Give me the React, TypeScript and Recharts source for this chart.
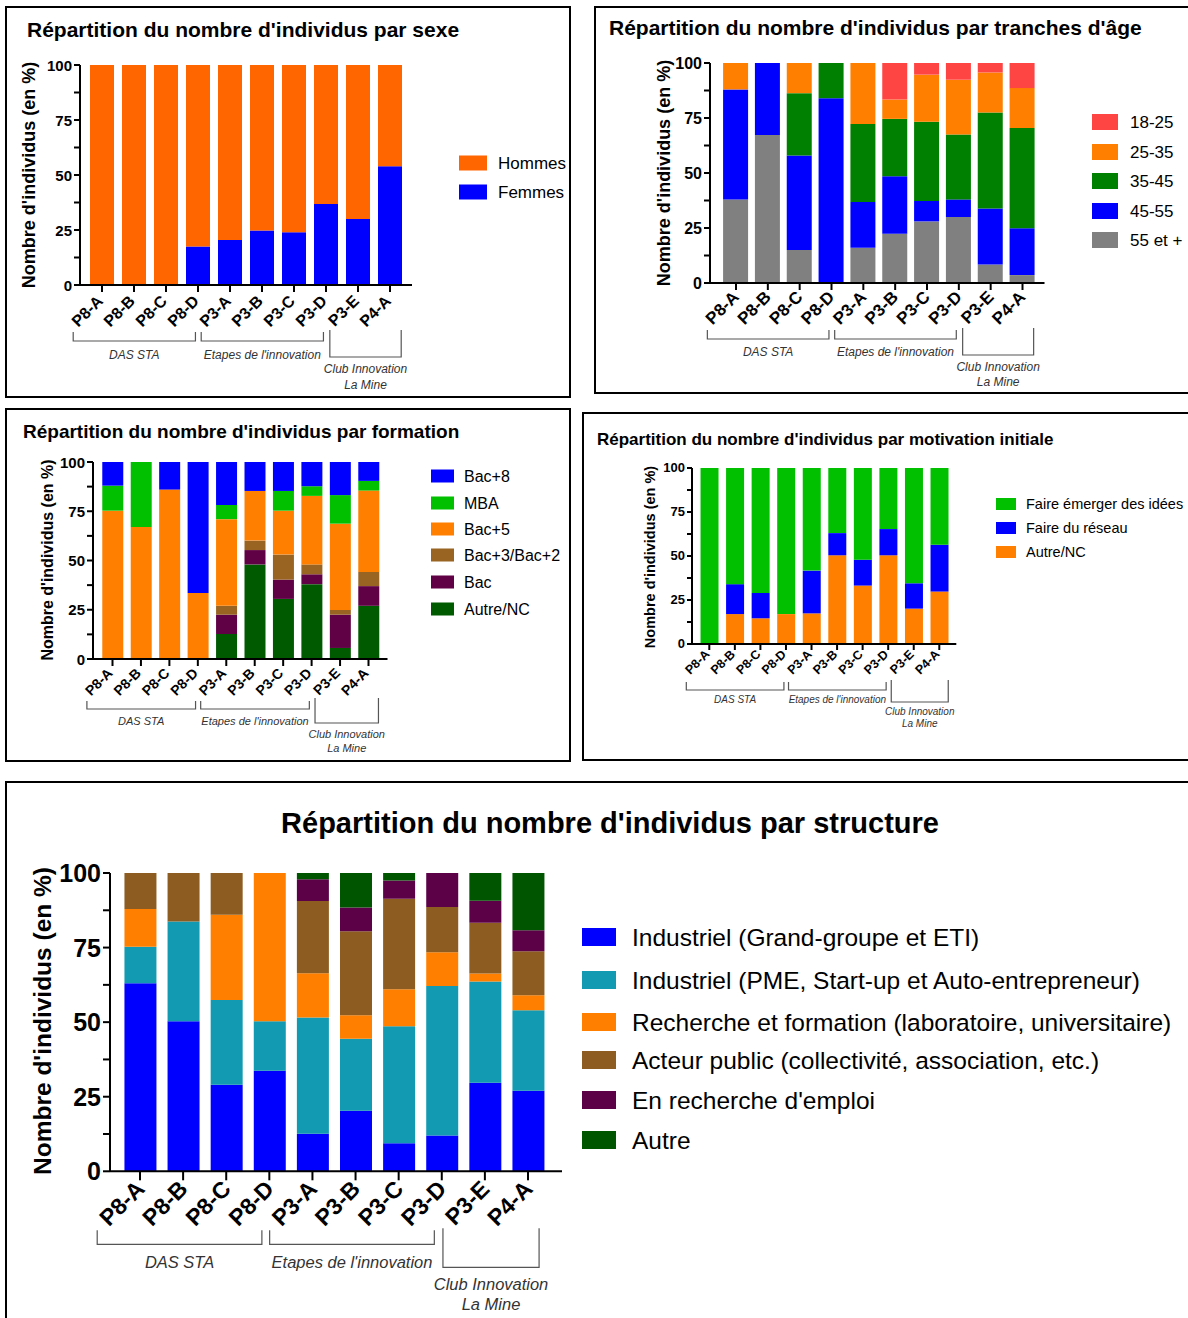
import React from "react";
import { BarChart, Bar, XAxis, YAxis } from "recharts";

const FONT = "'Liberation Sans', Arial, Helvetica, sans-serif";

const CATEGORIES = ["P8-A", "P8-B", "P8-C", "P8-D", "P3-A", "P3-B", "P3-C", "P3-D", "P3-E", "P4-A"];
const GROUPS = [
  { lines: ["DAS STA"], first: 0, last: 3, club: false },
  { lines: ["Etapes de l'innovation"], first: 4, last: 7, club: false },
  { lines: ["Club Innovation", "La Mine"], first: 8, last: 9, club: true },
];
const Y_TICKS = [0, 12.5, 25, 37.5, 50, 62.5, 75, 87.5, 100];
const Y_LABEL = "Nombre d'individus (en %)";

// sexe (stack from bottom)
const SEXE_FEMMES = [0, 0, 0, 17.5, 20.5, 24.8, 24, 36.8, 30, 54];
const SEXE_HOMMES = [100, 100, 100, 82.5, 79.5, 75.2, 76, 63.2, 70, 46];

// tranches d'age
const AGE_55_PLUS = [38, 67.3, 15, 0, 16, 22.4, 28, 30, 8.4, 3.6];
const AGE_45_55 = [50, 32.7, 43, 84, 20.8, 26.1, 9.3, 8, 25.5, 21.3];
const AGE_35_45 = [0, 0, 28.3, 16, 35.5, 26.1, 36, 29.5, 43.6, 45.5];
const AGE_25_35 = [12, 0, 13.7, 0, 27.7, 8.8, 21.4, 24.9, 18.2, 18.2];
const AGE_18_25 = [0, 0, 0, 0, 0, 16.6, 5.3, 7.6, 4.3, 11.4];

// formation
const FORM_AUTRE = [0, 0, 0, 0, 12.7, 48, 30.5, 38, 5.6, 27];
const FORM_BAC = [0, 0, 0, 0, 9.8, 7.3, 9.8, 5, 16.9, 10];
const FORM_BAC3 = [0, 0, 0, 0, 4.5, 4.8, 12.7, 5, 2.4, 7.2];
const FORM_BAC5 = [75.3, 67, 86, 33.5, 44, 25.2, 22.3, 34.8, 43.8, 41.3];
const FORM_MBA = [12.7, 33, 0, 0, 7.2, 0, 10, 4.9, 14.5, 4.9];
const FORM_BAC8 = [12, 0, 14, 66.5, 21.8, 14.7, 14.7, 12.3, 16.8, 9.6];

// motivation initiale
const MOTIV_AUTRE = [0, 17, 14.6, 17, 17.4, 50.4, 33.2, 50.4, 20.1, 29.8];
const MOTIV_RESEAU = [0, 17, 14.4, 0, 24.3, 12.6, 14.7, 14.9, 14.4, 26.6];
const MOTIV_IDEES = [100, 66, 71, 83, 58.3, 37, 52.1, 34.7, 65.5, 43.6];

// structure
const STRUCT_GG = [63, 50.3, 29, 33.7, 12.6, 20.3, 9.4, 12, 29.7, 27];
const STRUCT_PME = [12.3, 33.4, 28.4, 16.6, 39, 24.1, 39.2, 50.1, 33.9, 27];
const STRUCT_RECH = [12.6, 0, 28.6, 49.7, 14.8, 7.9, 12.4, 11.3, 2.7, 5];
const STRUCT_PUBLIC = [12.1, 16.3, 14, 0, 24.2, 28.2, 30.4, 15.2, 17, 14.8];
const STRUCT_EMPLOI = [0, 0, 0, 0, 7.3, 7.9, 6.1, 11.4, 7.4, 7];
const STRUCT_AUTRE = [0, 0, 0, 0, 2.1, 11.6, 2.5, 0, 9.3, 19.2];

type Series = { name: string; color: string; values: number[] };

const SEXE: Series[] = [
  { name: "Femmes", color: "#0000FF", values: SEXE_FEMMES },
  { name: "Hommes", color: "#FF6600", values: SEXE_HOMMES },
];
const AGE: Series[] = [
  { name: "55 et +", color: "#808080", values: AGE_55_PLUS },
  { name: "45-55", color: "#0000FF", values: AGE_45_55 },
  { name: "35-45", color: "#008000", values: AGE_35_45 },
  { name: "25-35", color: "#FF8000", values: AGE_25_35 },
  { name: "18-25", color: "#FF4444", values: AGE_18_25 },
];
const FORMATION: Series[] = [
  { name: "Autre/NC", color: "#005A00", values: FORM_AUTRE },
  { name: "Bac", color: "#600045", values: FORM_BAC },
  { name: "Bac+3/Bac+2", color: "#996422", values: FORM_BAC3 },
  { name: "Bac+5", color: "#FF8000", values: FORM_BAC5 },
  { name: "MBA", color: "#00C000", values: FORM_MBA },
  { name: "Bac+8", color: "#0000FF", values: FORM_BAC8 },
];
const MOTIVATION: Series[] = [
  { name: "Autre/NC", color: "#FF8000", values: MOTIV_AUTRE },
  { name: "Faire du réseau", color: "#0000FF", values: MOTIV_RESEAU },
  { name: "Faire émerger des idées", color: "#00C000", values: MOTIV_IDEES },
];
const STRUCTURE: Series[] = [
  { name: "Industriel (Grand-groupe et ETI)", color: "#0000FF", values: STRUCT_GG },
  { name: "Industriel (PME, Start-up et Auto-entrepreneur)", color: "#119AB2", values: STRUCT_PME },
  { name: "Recherche et formation (laboratoire, universitaire)", color: "#FF8000", values: STRUCT_RECH },
  { name: "Acteur public (collectivité, association, etc.)", color: "#8C5C20", values: STRUCT_PUBLIC },
  { name: "En recherche d'emploi", color: "#5C0048", values: STRUCT_EMPLOI },
  { name: "Autre", color: "#005500", values: STRUCT_AUTRE },
];

type Geo = {
  box: [number, number, number, number];
  title: string; titleX: number; titleY: number; titleSize: number; titleMiddle?: boolean;
  axisX: number; axisEnd: number; y100: number; y0: number; first: number; last: number; barW: number;
  yTickSize: number; yTickLen: number; xTickLen: number; catSize: number; catDx: number; catDy: number;
  yLabelX: number; yLabelY: number; yLabelSize: number;
  legX: number; legW: number; legH: number; legTextX: number; legRows: number[]; legSize: number;
  brLow: number; brHook: number; clubTop: number; clubBot: number;
  grpLabel: number; clubL1: number; clubL2: number; grpSize: number; brShift: number;
  xAxisH: number;
};

const G1: Geo = {
  box: [6, 7, 564, 390],
  title: "Répartition du nombre d'individus par sexe", titleX: 27, titleY: 29, titleSize: 21,
  axisX: 80, axisEnd: 412, y100: 65, y0: 285, first: 102, last: 390, barW: 24,
  yTickSize: 15, yTickLen: 6, xTickLen: 7, catSize: 16, catDx: 2, catDy: 17,
  yLabelX: 29, yLabelY: 175, yLabelSize: 18,
  legX: 459, legW: 28, legH: 15, legTextX: 498, legRows: [163, 192], legSize: 17,
  brLow: 56, brHook: 9, clubTop: 45, clubBot: 72, grpLabel: 70, clubL1: 84, clubL2: 100, grpSize: 12, brShift: 0,
  xAxisH: 120,
};
const G2: Geo = {
  box: [595, 7, 620, 386],
  title: "Répartition du nombre d'individus par tranches d'âge", titleX: 609, titleY: 27, titleSize: 21,
  axisX: 709.5, axisEnd: 1044, y100: 63, y0: 283, first: 735.5, last: 1022, barW: 25,
  yTickSize: 16, yTickLen: 6, xTickLen: 7, catSize: 17, catDx: 4, catDy: 15,
  yLabelX: 664, yLabelY: 173, yLabelSize: 18,
  legX: 1092, legW: 26, legH: 16, legTextX: 1130, legRows: [122, 152, 181, 211, 240], legSize: 17,
  brLow: 56, brHook: 9, clubTop: 45, clubBot: 72, grpLabel: 69, clubL1: 84, clubL2: 99, grpSize: 12, brShift: 0,
  xAxisH: 120,
};
const G3: Geo = {
  box: [6, 409, 564, 352],
  title: "Répartition du nombre d'individus par formation", titleX: 23, titleY: 431, titleSize: 19,
  axisX: 92.5, axisEnd: 387, y100: 462, y0: 659, first: 112, last: 368, barW: 21,
  yTickSize: 15, yTickLen: 6, xTickLen: 7, catSize: 14, catDx: 1, catDy: 15,
  yLabelX: 47, yLabelY: 560, yLabelSize: 16,
  legX: 431, legW: 23, legH: 13, legTextX: 464, legRows: [476, 503, 529, 555, 582, 609], legSize: 16,
  brLow: 50, brHook: 8, clubTop: 39, clubBot: 64, grpLabel: 62, clubL1: 75, clubL2: 89, grpSize: 11, brShift: 0,
  xAxisH: 110,
};
const G4: Geo = {
  box: [583, 413, 620, 347],
  title: "Répartition du nombre d'individus par motivation initiale", titleX: 597, titleY: 439, titleSize: 17,
  axisX: 691.7, axisEnd: 956, y100: 468.3, y0: 644.3, first: 709, last: 939, barW: 18,
  yTickSize: 13, yTickLen: 5, xTickLen: 6, catSize: 12.5, catDx: 1, catDy: 11,
  yLabelX: 650, yLabelY: 557, yLabelSize: 14.5,
  legX: 996, legW: 20, legH: 12, legTextX: 1026, legRows: [504, 528, 552], legSize: 14.5,
  brLow: 46, brHook: 8, clubTop: 36, clubBot: 58, grpLabel: 56, clubL1: 68, clubL2: 80, grpSize: 10, brShift: 0,
  xAxisH: 100,
};
const G5: Geo = {
  box: [6, 782, 1200, 560],
  title: "Répartition du nombre d'individus par structure", titleX: 610, titleY: 823, titleSize: 29, titleMiddle: true,
  axisX: 110, axisEnd: 562, y100: 872.7, y0: 1171, first: 140, last: 528, barW: 32,
  yTickSize: 25, yTickLen: 7, xTickLen: 9, catSize: 23, catDx: 6, catDy: 19,
  yLabelX: 42, yLabelY: 1021, yLabelSize: 24.5,
  legX: 582, legW: 34, legH: 18, legTextX: 632, legRows: [937, 980, 1022, 1060, 1100, 1140], legSize: 24.5,
  brLow: 73, brHook: 14, clubTop: 57, clubBot: 96, grpLabel: 91, clubL1: 113, clubL2: 133, grpSize: 16.5, brShift: -4,
  xAxisH: 160,
};

const YW = 60;
const MT = 20;
const MR = 10;

function StackChart({ g, series }: { g: Geo; series: Series[] }) {
  const step = (g.last - g.first) / 9;
  const padL = g.first - step / 2 - g.axisX;
  const padR = g.axisEnd - g.last - step / 2;
  const plotH = g.y0 - g.y100;
  const width = YW + (g.axisEnd - g.axisX) + MR;
  const height = MT + plotH + g.xAxisH;
  const axisY = MT + plotH;

  const data = CATEGORIES.map((cat, i) => {
    const row: Record<string, string | number> = { cat };
    series.forEach((s, k) => { row["s" + k] = s.values[i]; });
    return row;
  });

  const CatTick = (props: any) => {
    const { x, payload } = props;
    const i = CATEGORIES.indexOf(payload.value);
    const ax = x + g.catDx;
    const ay = axisY + g.catDy;
    const grp = GROUPS.find((gr) => gr.first === i);
    let bracket = null;
    if (grp) {
      const span = (grp.last - grp.first) * step;
      const stroke = "#555";
      if (!grp.club) {
        const l = x - 0.9 * step + g.brShift;
        const r = x + span - 0.08 * step + g.brShift;
        const by = axisY + g.brLow;
        bracket = (
          <g>
            <polyline points={`${l},${by - g.brHook} ${l},${by} ${r},${by} ${r},${by - g.brHook}`} fill="none" stroke={stroke} strokeWidth={1.2} />
            <text x={(l + r) / 2} y={axisY + g.grpLabel} textAnchor="middle" dominantBaseline="central" fontSize={g.grpSize} fontStyle="italic" fill="#333" fontFamily={FONT}>{grp.lines[0]}</text>
          </g>
        );
      } else {
        const l = x - 0.88 * step + g.brShift;
        const r = x + span + 0.35 * step + g.brShift;
        const t = axisY + g.clubTop;
        const b = axisY + g.clubBot;
        bracket = (
          <g>
            <polyline points={`${l},${t} ${l},${b} ${r},${b} ${r},${t}`} fill="none" stroke={stroke} strokeWidth={1.2} />
            <text x={(l + r) / 2} y={axisY + g.clubL1} textAnchor="middle" dominantBaseline="central" fontSize={g.grpSize} fontStyle="italic" fill="#333" fontFamily={FONT}>{grp.lines[0]}</text>
            <text x={(l + r) / 2} y={axisY + g.clubL2} textAnchor="middle" dominantBaseline="central" fontSize={g.grpSize} fontStyle="italic" fill="#333" fontFamily={FONT}>{grp.lines[1]}</text>
          </g>
        );
      }
    }
    return (
      <g>
        <text x={ax} y={ay} transform={`rotate(-45 ${ax} ${ay})`} textAnchor="end" fontSize={g.catSize} fontWeight="bold" fill="#000" fontFamily={FONT}>
          {payload.value}
        </text>
        {bracket}
      </g>
    );
  };

  const ValTick = (props: any) => {
    const { y, payload } = props;
    if (payload.value % 25 !== 0) return <g />;
    return (
      <text x={YW - g.yTickLen - 2} y={y} textAnchor="end" dominantBaseline="central" fontSize={g.yTickSize} fontWeight="bold" fill="#000" fontFamily={FONT}>
        {payload.value}
      </text>
    );
  };

  return (
    <div style={{ position: "absolute", left: g.axisX - YW, top: g.y100 - MT }}>
      <BarChart width={width} height={height} data={data} margin={{ top: MT, right: MR, left: 0, bottom: 0 }} barSize={g.barW}>
        <XAxis
          dataKey="cat"
          interval={0}
          height={g.xAxisH}
          padding={{ left: padL, right: padR }}
          tick={<CatTick />}
          tickSize={g.xTickLen}
          tickLine={{ stroke: "#000", strokeWidth: 2 }}
          axisLine={{ stroke: "#000", strokeWidth: 2 }}
        />
        <YAxis
          type="number"
          domain={[0, 100]}
          ticks={Y_TICKS}
          interval={0}
          width={YW}
          tick={<ValTick />}
          tickSize={g.yTickLen}
          tickLine={{ stroke: "#000", strokeWidth: 2 }}
          axisLine={{ stroke: "#000", strokeWidth: 2 }}
        />
        {series.map((s, k) => (
          <Bar key={s.name} dataKey={"s" + k} stackId="a" fill={s.color} isAnimationActive={false} />
        ))}
      </BarChart>
    </div>
  );
}

function Decor({ g, series, reverse }: { g: Geo; series: Series[]; reverse: boolean }) {
  const legend = reverse ? [...series].reverse() : series;
  const [bx, by, bw, bh] = g.box;
  return (
    <g fontFamily={FONT}>
      <rect x={bx} y={by} width={bw} height={bh} fill="none" stroke="#000" strokeWidth={2} />
      <text x={g.titleX} y={g.titleY} textAnchor={g.titleMiddle ? "middle" : "start"} dominantBaseline="central" fontSize={g.titleSize} fontWeight="bold" fill="#000">
        {g.title}
      </text>
      <text
        x={g.yLabelX}
        y={g.yLabelY}
        transform={`rotate(-90 ${g.yLabelX} ${g.yLabelY})`}
        textAnchor="middle"
        dominantBaseline="central"
        fontSize={g.yLabelSize}
        fontWeight="bold"
        fill="#000"
      >
        {Y_LABEL}
      </text>
      {legend.map((s, i) => (
        <g key={s.name}>
          <rect x={g.legX} y={g.legRows[i] - g.legH / 2} width={g.legW} height={g.legH} fill={s.color} />
          <text x={g.legTextX} y={g.legRows[i]} dominantBaseline="central" fontSize={g.legSize} fill="#000">
            {s.name}
          </text>
        </g>
      ))}
    </g>
  );
}

export default function App() {
  return (
    <div style={{ position: "absolute", left: 0, top: 0, width: 1188, height: 1318, background: "#fff", overflow: "hidden", fontFamily: FONT }}>
      <svg width={1188} height={1318} style={{ position: "absolute", left: 0, top: 0 }}>
        <Decor g={G1} series={SEXE} reverse />
        <Decor g={G2} series={AGE} reverse />
        <Decor g={G3} series={FORMATION} reverse />
        <Decor g={G4} series={MOTIVATION} reverse />
        <Decor g={G5} series={STRUCTURE} reverse={false} />
      </svg>
      <StackChart g={G1} series={SEXE} />
      <StackChart g={G2} series={AGE} />
      <StackChart g={G3} series={FORMATION} />
      <StackChart g={G4} series={MOTIVATION} />
      <StackChart g={G5} series={STRUCTURE} />
    </div>
  );
}
